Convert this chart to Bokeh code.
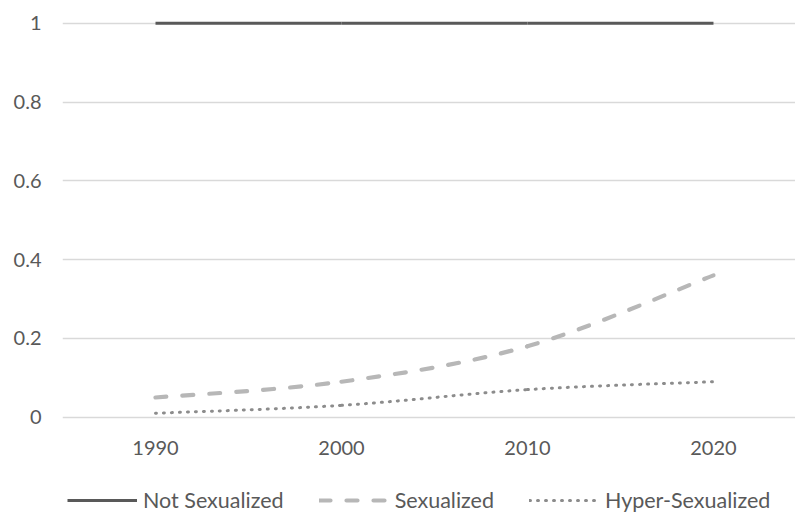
from bokeh.plotting import figure
from bokeh.models import Range1d, FixedTicker, Legend, LegendItem, ColumnDataSource
from bokeh.embed import file_html
from bokeh.resources import INLINE

years = [1990, 2000, 2010, 2020]
not_sexualized = [1.0, 1.0, 1.0, 1.0]
sexualized = [0.05, 0.09, 0.18, 0.36]
hyper_sexualized = [0.01, 0.03, 0.07, 0.09]
series_names = ["Not Sexualized", "Sexualized", "Hyper-Sexualized"]
y_ticks = [0, 0.2, 0.4, 0.6, 0.8, 1.0]
y_tick_labels = ["0", "0.2", "0.4", "0.6", "0.8", "1"]
x_tick_labels = ["1990", "2000", "2010", "2020"]

FONT = "Lato"
TEXT = "#595959"


def smooth_source(xs, ys):
    """Bezier control points (Excel-like smoothing) for the given data points."""
    n = len(xs)
    P = list(zip(xs, ys))
    d = dict(x0=[], y0=[], x1=[], y1=[], cx0=[], cy0=[], cx1=[], cy1=[])
    for i in range(n - 1):
        pm = P[i - 1] if i > 0 else P[i]
        p0, p1 = P[i], P[i + 1]
        pp = P[i + 2] if i + 2 < n else P[i + 1]
        d["x0"].append(p0[0]); d["y0"].append(p0[1])
        d["x1"].append(p1[0]); d["y1"].append(p1[1])
        d["cx0"].append(p0[0] + (p1[0] - pm[0]) / 6)
        d["cy0"].append(p0[1] + (p1[1] - pm[1]) / 6)
        d["cx1"].append(p1[0] - (pp[0] - p0[0]) / 6)
        d["cy1"].append(p1[1] - (pp[1] - p0[1]) / 6)
    return ColumnDataSource(d)


p = figure(
    width=795, height=514,
    x_range=Range1d(1985, 2024.41), y_range=Range1d(-0.247, 1.0094),
    output_backend="svg", toolbar_location=None,
    min_border_left=62, min_border_top=19, min_border_right=0, min_border_bottom=0,
)
p.outline_line_color = None
p.background_fill_color = "white"
p.border_fill_color = "white"
p.xgrid.grid_line_color = None
p.ygrid.grid_line_color = "#d9d9d9"
p.ygrid.grid_line_width = 1.5

p.yaxis.ticker = FixedTicker(ticks=y_ticks)
p.yaxis.major_label_overrides = {t: l for t, l in zip(y_ticks, y_tick_labels)}
p.xaxis.ticker = FixedTicker(ticks=years)
p.xaxis.major_label_overrides = {t: l for t, l in zip(years, x_tick_labels)}
p.xaxis.fixed_location = 0
for ax in (p.xaxis, p.yaxis):
    ax.axis_line_color = None
    ax.major_tick_line_color = None
    ax.minor_tick_line_color = None
    ax.major_tick_out = 0
    ax.major_tick_in = 0
    ax.minor_tick_out = 0
    ax.major_label_text_font = FONT
    ax.major_label_text_font_size = "20px"
    ax.major_label_text_color = TEXT
p.yaxis.major_label_standoff = 21
p.xaxis.major_label_standoff = 24

styles = [
    dict(line_color="#595959", line_width=3, line_cap="butt"),
    dict(line_color="#b7b7b7", line_width=4.2, line_dash="11 16", line_cap="round"),
    dict(line_color="#8c8c8c", line_width=3, line_dash="1 7", line_cap="round"),
]
items = []
for name, ys, st in zip(series_names, [not_sexualized, sexualized, hyper_sexualized], styles):
    r = p.bezier("x0", "y0", "x1", "y1", "cx0", "cy0", "cx1", "cy1",
                 source=smooth_source(years, ys), **st)
    items.append(LegendItem(label=name, renderers=[r]))

legend = Legend(items=items, orientation="horizontal", location=(5, 1),
                label_text_font=FONT, label_text_font_size="21.5px", label_text_color=TEXT,
                glyph_width=70, glyph_height=20, label_standoff=6, spacing=35,
                padding=0, margin=0, border_line_color=None, background_fill_alpha=0)
p.add_layout(legend, "center")

open("out.html", "w").write(file_html(p, INLINE))
